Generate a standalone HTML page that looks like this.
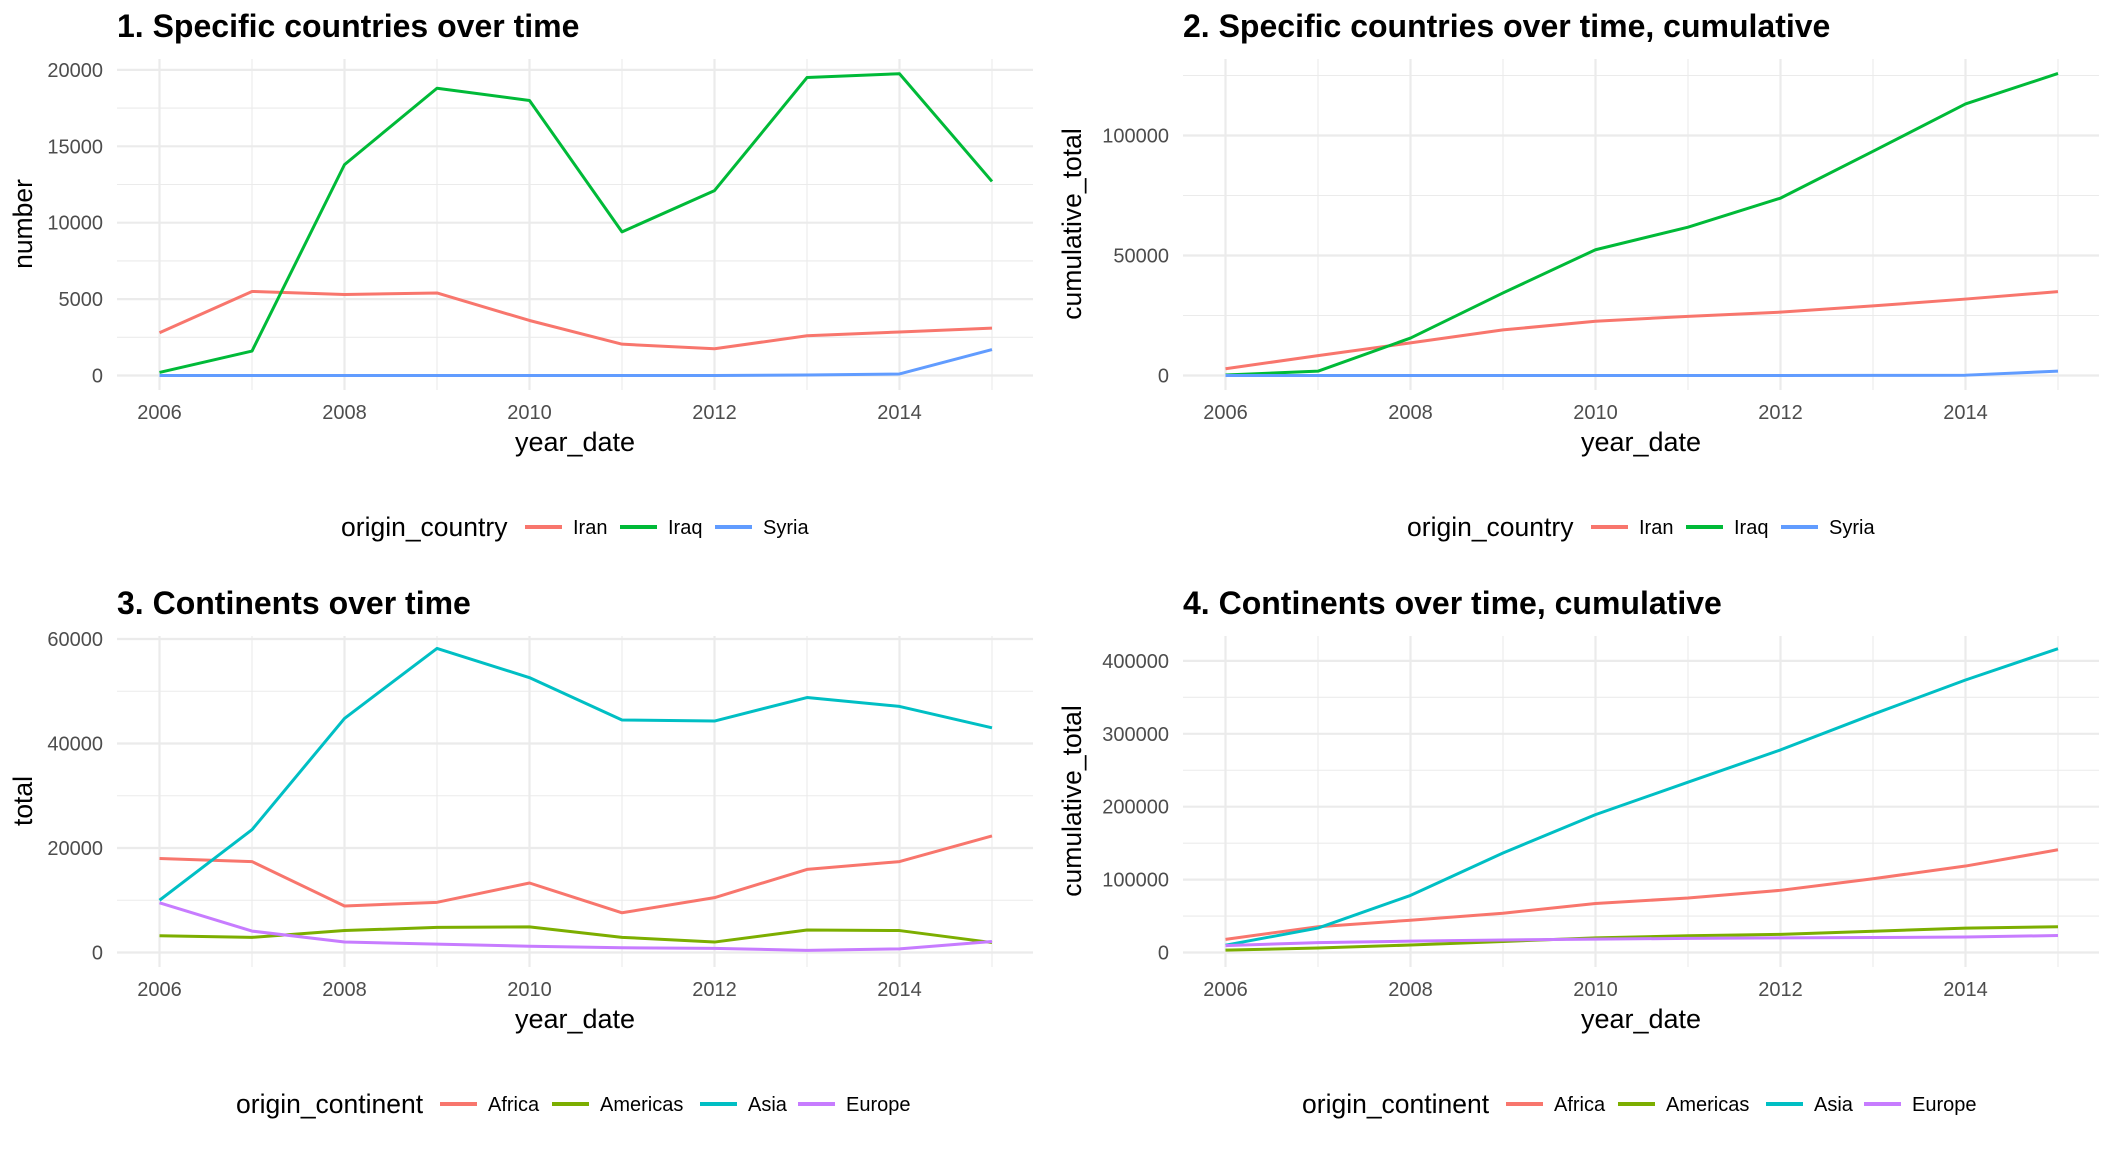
<!DOCTYPE html>
<html><head><meta charset="utf-8">
<style>
html,body{margin:0;padding:0;background:#fff;}
svg{display:block;font-family:"Liberation Sans",Arial,sans-serif;}
</style></head>
<body>
<svg id="chart" width="2112" height="1152" viewBox="0 0 2112 1152" xmlns="http://www.w3.org/2000/svg"></svg>
<script>
const years = [2006,2007,2008,2009,2010,2011,2012,2013,2014,2015];
const xTicks = [2006,2008,2010,2012,2014];
// Panel 1
const iranNumber = [2800,5500,5300,5400,3600,2050,1750,2600,2850,3100];
const iraqNumber = [200,1600,13800,18800,18000,9400,12100,19500,19750,12700];
const syriaNumber = [0,0,0,0,0,0,0,30,100,1700];
const p1Ticks = [0,5000,10000,15000,20000];
// Panel 2
const iranCum = [2800,8300,13600,19000,22600,24650,26400,29000,31850,34950];
const iraqCum = [200,1800,15600,34400,52400,61800,73900,93400,113150,125850];
const syriaCum = [0,0,0,0,0,0,0,30,130,1830];
const p2Ticks = [0,50000,100000];
// Panel 3
const africaTotal = [18000,17400,8900,9600,13300,7600,10500,15900,17400,22300];
const americasTotal = [3200,2900,4200,4800,4900,2900,2000,4300,4200,1900];
const asiaTotal = [10000,23500,44800,58200,52600,44500,44300,48800,47100,43000];
const europeTotal = [9500,4100,2000,1600,1200,900,800,400,700,2100];
const p3Ticks = [0,20000,40000,60000];
// Panel 4
const africaCum = [18000,35400,44300,53900,67200,74800,85300,101200,118600,140900];
const americasCum = [3200,6100,10300,15100,20000,22900,24900,29200,33400,35300];
const asiaCum = [10000,33500,78300,136500,189100,233600,277900,326700,373800,416800];
const europeCum = [9500,13600,15600,17200,18400,19300,20100,20500,21200,23300];
const p4Ticks = [0,100000,200000,300000,400000];

const C = {Iran:'#F8766D',Iraq:'#00BA38',Syria:'#619CFF',Africa:'#F8766D',Americas:'#7CAE00',Asia:'#00BFC4',Europe:'#C77CFF'};
const NS='http://www.w3.org/2000/svg';
const svg=document.getElementById('chart');
function mk(tag,attrs,parent){const e=document.createElementNS(NS,tag);for(const k in attrs)e.setAttribute(k,attrs[k]);(parent||svg).appendChild(e);return e;}

function panel(o){
  const g=mk('g',{});
  
  
  const L=o.ox+117,R=o.ox+1033,T=o.oy+59,B=o.oy+390;
  const x=v=>o.ox+159.5+(v-2006)*92.5;
  const y=v=>o.oy+375.5-(v/o.step)*o.stepPx;
  for(let yr=2007;yr<=2015;yr+=2){const l=mk('line',{x1:x(yr),x2:x(yr),y1:T,y2:B,stroke:'#EBEBEB','stroke-width':1.1},g);}
  for(let v=o.step/2;y(v)>=T;v+=o.step){const l=mk('line',{x1:L,x2:R,y1:y(v),y2:y(v),stroke:'#EBEBEB','stroke-width':1.1},g);}
  xTicks.forEach(t=>{const l=mk('line',{x1:x(t),x2:x(t),y1:T,y2:B,stroke:'#EBEBEB','stroke-width':2.2},g);
    const tx=mk('text',{x:x(t),y:o.oy+419,'text-anchor':'middle','font-size':20,fill:'#4D4D4D'},g);tx.textContent=t;});
  o.ticks.forEach(t=>{const l=mk('line',{x1:L,x2:R,y1:y(t),y2:y(t),stroke:'#EBEBEB','stroke-width':2.2},g);
    const tx=mk('text',{x:o.ox+o.tickEnd,y:y(t)+7,'text-anchor':'end','font-size':20,fill:'#4D4D4D'},g);tx.textContent=t;});
  o.series.forEach(s=>{const p=mk('polyline',{points:years.map((yr,i)=>x(yr)+','+y(s.data[i])).join(' '),fill:'none',stroke:C[s.key],'stroke-width':3,'stroke-linejoin':'round'},g);});
  const ti=mk('text',{x:L,y:o.oy+37,'font-size':32,'font-weight':'bold',fill:'#000'},g);ti.textContent=o.title;
  const xt=mk('text',{x:(L+R)/2,y:o.oy+451,'text-anchor':'middle','font-size':27,fill:'#000'},g);xt.textContent='year_date';
  const yc=o.oy+224;
  const yt=mk('text',{x:o.ox+o.yTitleX,y:yc,'text-anchor':'middle','font-size':26.5,fill:'#000',transform:`rotate(-90 ${o.ox+o.yTitleX} ${yc})`},g);yt.textContent=o.ytitle;
  const lg=mk('g',{},g);
  const ly=o.oy+527;
  const lt=mk('text',{x:o.ox+o.leg.title,y:ly+9,'font-size':26.5,fill:'#000'},lg);lt.textContent=o.leg.name;
  o.series.forEach((s,i)=>{const kx=o.ox+o.leg.keys[i];
    const k=mk('line',{x1:kx,x2:kx+37,y1:ly,y2:ly,stroke:C[s.key],'stroke-width':4},lg);
    const t=mk('text',{x:kx+48,y:ly+7,'font-size':20,fill:'#000'},lg);t.textContent=s.key;});
}
const legC={name:'origin_country',title:341,keys:[525,620,715]};
const legK={name:'origin_continent',title:236,keys:[440,552,700,798]};
panel({name:'panel-1',ox:0,oy:0,step:5000,stepPx:76.4,ticks:p1Ticks,tickEnd:103,yTitleX:32,title:'1. Specific countries over time',ytitle:'number',leg:legC,
  series:[{key:'Iran',data:iranNumber},{key:'Iraq',data:iraqNumber},{key:'Syria',data:syriaNumber}]});
panel({name:'panel-2',ox:1066,oy:0,step:50000,stepPx:120,ticks:p2Ticks,tickEnd:103,yTitleX:15,title:'2. Specific countries over time, cumulative',ytitle:'cumulative_total',leg:legC,
  series:[{key:'Iran',data:iranCum},{key:'Iraq',data:iraqCum},{key:'Syria',data:syriaCum}]});
panel({name:'panel-3',ox:0,oy:577,step:20000,stepPx:104.5,ticks:p3Ticks,tickEnd:103,yTitleX:32,title:'3. Continents over time',ytitle:'total',leg:legK,
  series:[{key:'Africa',data:africaTotal},{key:'Americas',data:americasTotal},{key:'Asia',data:asiaTotal},{key:'Europe',data:europeTotal}]});
panel({name:'panel-4',ox:1066,oy:577,step:100000,stepPx:72.9,ticks:p4Ticks,tickEnd:103,yTitleX:15,title:'4. Continents over time, cumulative',ytitle:'cumulative_total',leg:legK,
  series:[{key:'Africa',data:africaCum},{key:'Americas',data:americasCum},{key:'Asia',data:asiaCum},{key:'Europe',data:europeCum}]});
</script>
</body></html>
